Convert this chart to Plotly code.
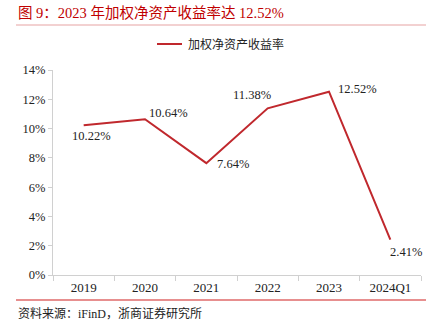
import plotly.graph_objects as go

categories = ["2019", "2020", "2021", "2022", "2023", "2024Q1"]
roe = [10.22, 10.64, 7.64, 11.38, 12.52, 2.41]
label_text = ["10.22%", "10.64%", "7.64%", "11.38%", "12.52%", "2.41%"]
y_ticks = [0, 2, 4, 6, 8, 10, 12, 14]
y_tick_text = ["0%", "2%", "4%", "6%", "8%", "10%", "12%", "14%"]
series_name = "加权净资产收益率"
title_text = "图 9：2023 年加权净资产收益率达 12.52%"
source_text = "资料来源：iFinD，浙商证券研究所"

W, H = 441, 332
L, R, T, B = 53, 20, 70, 57
PW, PH = W - L - R, H - T - B

def px(x):
    return (x - L) / PW

def py(y):
    return (H - B - y) / PH

FONT = "Liberation Serif, Times New Roman, Noto Sans CJK SC, serif"
RED = "#C0282D"

fig = go.Figure()
fig.add_trace(go.Scatter(
    x=categories, y=roe, mode="lines", name=series_name,
    line=dict(color=RED, width=2), showlegend=False,
))

# data labels offsets (pixels)
offsets = [(8, -11), (23, 6), (27, -1), (-16, 13), (28, 3), (16, -12)]
for i, (v, t, (dx, dy)) in enumerate(zip(roe, label_text, offsets)):
    fig.add_annotation(x=i, y=v, xref="x", yref="y", text=t, showarrow=False,
                       xshift=dx, yshift=dy,
                       font=dict(family=FONT, size=12.5, color="#222"))

fig.add_annotation(x=px(16), y=py(13), xref="paper", yref="paper", text=title_text,
                   showarrow=False, xanchor="left", yanchor="middle",
                   font=dict(family=FONT, size=14.5, color="#C00000"))
fig.add_annotation(x=px(16), y=py(313), xref="paper", yref="paper", text=source_text,
                   showarrow=False, xanchor="left", yanchor="middle",
                   font=dict(family=FONT, size=12, color="#222"))

# legend (manual)
fig.add_shape(type="line", xref="paper", yref="paper", x0=px(157), x1=px(182),
              y0=py(44), y1=py(44), line=dict(color=RED, width=2))
fig.add_annotation(x=px(186), y=py(44), xref="paper", yref="paper", text=series_name,
                   showarrow=False, xanchor="left", yanchor="middle",
                   font=dict(family=FONT, size=12, color="#222"))

fig.add_shape(type="line", xref="paper", yref="paper", x0=px(16), x1=px(426),
              y0=py(25), y1=py(25), line=dict(color="#E6A3A3", width=1))
fig.add_shape(type="line", xref="paper", yref="paper", x0=px(16), x1=px(426),
              y0=py(300), y1=py(300), line=dict(color="#D02020", width=1.2))

fig.update_layout(
    width=W, height=H,
    margin=dict(l=L, r=R, t=T, b=B, pad=0),
    paper_bgcolor="white", plot_bgcolor="white",
    showlegend=False,
    xaxis=dict(type="category", showgrid=False, showline=True, linecolor="#D0D0D0",
               linewidth=1, ticks="outside", tickson="boundaries", ticklen=5,
               tickcolor="#D0D0D0", tickfont=dict(family=FONT, size=13, color="#222"),
               range=[-0.5, 5.5]),
    yaxis=dict(range=[0, 14], tickvals=y_ticks, ticktext=y_tick_text, showgrid=False,
               showline=True, linecolor="#D0D0D0", linewidth=1, ticks="outside",
               ticklen=4, tickcolor="#D0D0D0", zeroline=False,
               tickfont=dict(family=FONT, size=12.5, color="#222")),
)

fig.write_html("out.html")
